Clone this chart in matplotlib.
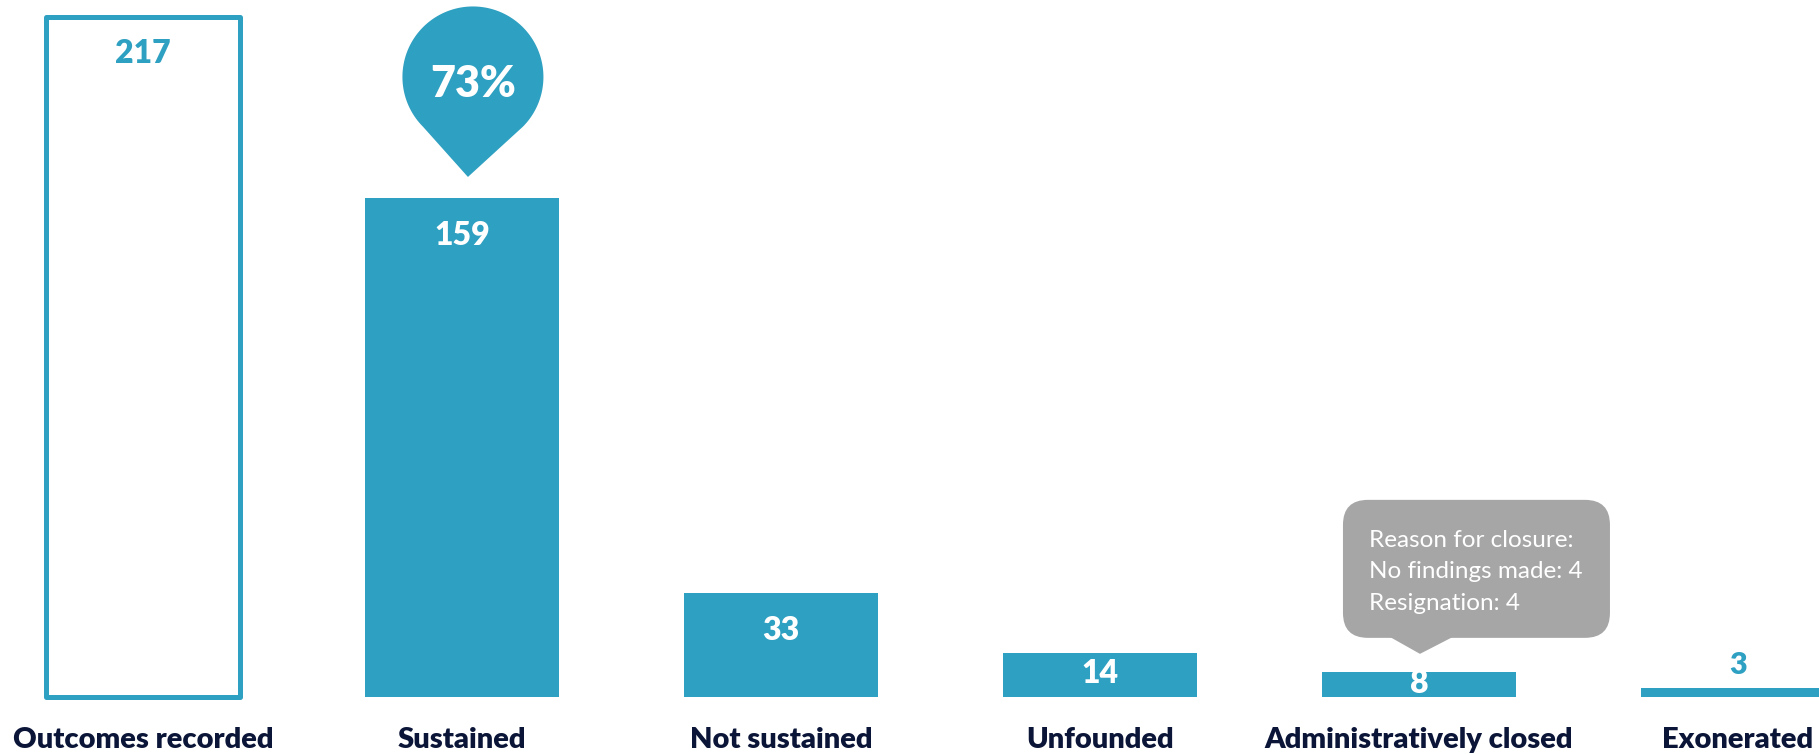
import matplotlib
matplotlib.use('Agg')
import matplotlib.pyplot as plt
import numpy as np
from matplotlib.path import Path
from matplotlib.patches import PathPatch, FancyBboxPatch, Polygon
from matplotlib.transforms import IdentityTransform

categories = ['Outcomes recorded', 'Sustained', 'Not sustained', 'Unfounded',
              'Administratively closed', 'Exonerated']
counts = [217, 159, 33, 14, 8, 3]
share_label = '73%'
closure_lines = ['Reason for closure:', 'No findings made: 4', 'Resignation: 4']

TEAL = '#2EA0C1'
GREY = '#A6A6A6'
NAVY = '#0B1537'

plt.rcParams['font.family'] = ['Lato', 'DejaVu Sans']

fig = plt.figure(figsize=(18.19, 7.54), dpi=100)
ax = fig.add_axes([0, 0, 1, 1])
ax.set_xlim(-0.448, 5.254)
ax.set_ylim(-18.2, 222.3)
ax.axis('off')

x = np.arange(len(categories))
w = 0.608
ax.bar(x[1:], counts[1:], width=w, color=TEAL)
ax.bar(x[0], counts[0], width=w, facecolor='white', edgecolor=TEAL,
       linewidth=3.6, joinstyle='round')

# pixels per data unit on y
ppu = ax.transData.transform((0, 1))[1] - ax.transData.transform((0, 0))[1]

# value labels
for i, v in enumerate(counts):
    top = v * ppu
    if i == len(counts) - 1:
        ax.annotate(str(v), xy=(i, v), xytext=(0, 14), textcoords='offset pixels',
                    ha='center', va='baseline', fontsize=22, fontweight='heavy',
                    color=TEAL)
        continue
    # near the top for tall bars, centred for short ones
    center = max(top - 35, top / 2 + 3)
    col = TEAL if i == 0 else 'white'
    ax.annotate(str(v), xy=(i, 0), xytext=(0, center - 11.5),
                textcoords='offset pixels', ha='center', va='baseline',
                fontsize=23, fontweight='heavy', color=col)

# category labels
for i, c in enumerate(categories):
    ax.annotate(c, xy=(i, 0), xytext=(0, -51), textcoords='offset pixels',
                ha='center', va='baseline', fontsize=21, fontweight='heavy',
                color=NAVY)

# teardrop bubble above "Sustained"
ax_, ay_ = ax.transData.transform((1, counts[1]))
cx, cy = ax_ + 11, ay_ + 121.5
r = 70.5
t = np.radians(np.linspace(-45, 225, 180))
verts = list(zip(cx + r * np.cos(t), cy + r * np.sin(t)))
verts.append((ax_ + 6, ay_ + 21.5))
verts.append(verts[0])
codes = [Path.MOVETO] + [Path.LINETO] * (len(verts) - 2) + [Path.CLOSEPOLY]
drop = PathPatch(Path(verts, codes), facecolor=TEAL, edgecolor='none',
                 transform=IdentityTransform(), clip_on=False)
ax.add_patch(drop)
ax.annotate(share_label, xy=(1, counts[1]), xytext=(11, 101.5),
            textcoords='offset pixels', ha='center', va='baseline',
            fontsize=31, fontweight='heavy', color='white')

# grey callout above "Administratively closed"
bx, by = ax.transData.transform((4, counts[4]))
box = FancyBboxPatch((bx - 76, by + 34), 267, 138,
                     boxstyle='round,pad=0,rounding_size=25',
                     facecolor=GREY, edgecolor='none',
                     transform=IdentityTransform(), clip_on=False)
ax.add_patch(box)
tri = Polygon([(bx - 31, by + 36), (bx + 36, by + 36), (bx + 1, by + 18)],
              closed=True, facecolor=GREY, edgecolor='none',
              transform=IdentityTransform(), clip_on=False)
ax.add_patch(tri)
for k, line in enumerate(closure_lines):
    ax.annotate(line, xy=(4, counts[4]), xytext=(-50, 125 - 31.5 * k),
                textcoords='offset pixels', ha='left', va='baseline',
                fontsize=17.5, color='white')

fig.savefig('out.png', dpi=100)
